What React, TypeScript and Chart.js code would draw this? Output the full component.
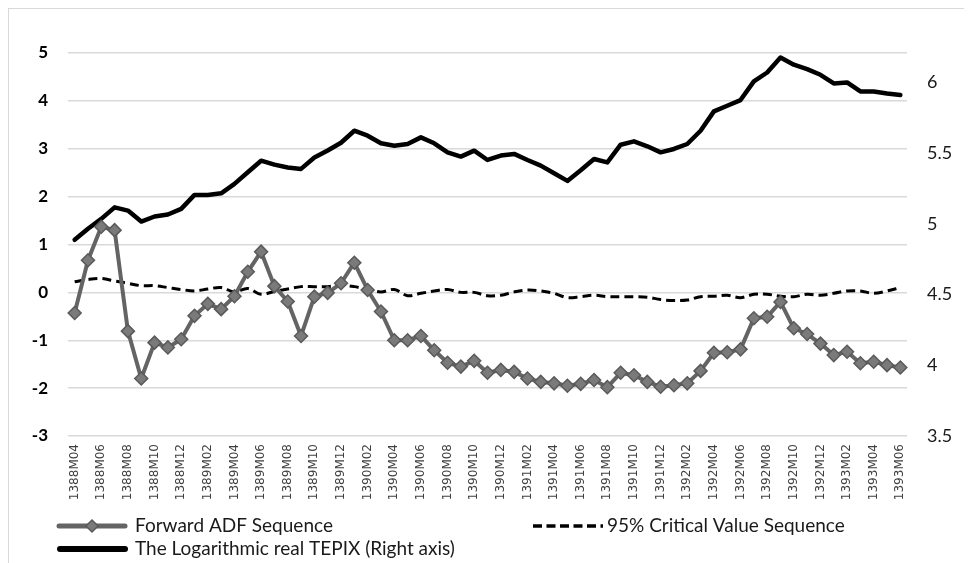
import React, { useEffect, useRef } from 'react';
import { Chart, registerables } from 'chart.js';

Chart.register(...registerables);

const months = [
  '1388M04', '1388M05', '1388M06', '1388M07', '1388M08', '1388M09', '1388M10', '1388M11', '1388M12',
  '1389M01', '1389M02', '1389M03', '1389M04', '1389M05', '1389M06', '1389M07', '1389M08', '1389M09', '1389M10', '1389M11', '1389M12',
  '1390M01', '1390M02', '1390M03', '1390M04', '1390M05', '1390M06', '1390M07', '1390M08', '1390M09', '1390M10', '1390M11', '1390M12',
  '1391M01', '1391M02', '1391M03', '1391M04', '1391M05', '1391M06', '1391M07', '1391M08', '1391M09', '1391M10', '1391M11', '1391M12',
  '1392M01', '1392M02', '1392M03', '1392M04', '1392M05', '1392M06', '1392M07', '1392M08', '1392M09', '1392M10', '1392M11', '1392M12',
  '1393M01', '1393M02', '1393M03', '1393M04', '1393M05', '1393M06',
];

const adfValues = [
  -0.43, 0.67, 1.37, 1.30, -0.81, -1.80, -1.05, -1.15, -0.98,
  -0.49, -0.24, -0.35, -0.08, 0.43, 0.85, 0.13, -0.19, -0.91, -0.09, -0.01, 0.19,
  0.62, 0.05, -0.40, -1.00, -1.00, -0.91, -1.21, -1.47, -1.55, -1.43, -1.68, -1.62,
  -1.66, -1.80, -1.87, -1.90, -1.95, -1.91, -1.83, -1.98, -1.68, -1.73, -1.87, -1.97,
  -1.94, -1.90, -1.64, -1.26, -1.25, -1.19, -0.54, -0.51, -0.20, -0.75, -0.87, -1.07,
  -1.31, -1.24, -1.48, -1.45, -1.52, -1.57,
];

const criticalValues = [
  0.22, 0.27, 0.29, 0.24, 0.19, 0.14, 0.14, 0.10, 0.06,
  0.03, 0.07, 0.10, 0.01, 0.08, -0.04, 0.02, 0.07, 0.12, 0.12, 0.12, 0.15,
  0.12, 0.06, 0.01, 0.06, -0.07, -0.02, 0.03, 0.06, 0.00, 0.00, -0.07, -0.06,
  0.01, 0.05, 0.03, -0.02, -0.11, -0.09, -0.06, -0.09, -0.09, -0.09, -0.10, -0.15,
  -0.17, -0.16, -0.09, -0.08, -0.06, -0.11, -0.04, -0.04, -0.08, -0.09, -0.04, -0.06,
  -0.02, 0.03, 0.03, -0.02, 0.03, 0.10,
];

const tepixValues = [
  4.888, 4.966, 5.036, 5.118, 5.095, 5.017, 5.053, 5.067, 5.107,
  5.206, 5.206, 5.217, 5.284, 5.366, 5.448, 5.42, 5.40, 5.39, 5.47, 5.52, 5.575,
  5.66, 5.625, 5.571, 5.554, 5.566, 5.613, 5.571, 5.507, 5.477, 5.519, 5.453, 5.484,
  5.496, 5.453, 5.413, 5.359, 5.305, 5.38, 5.46, 5.436, 5.561, 5.585, 5.55, 5.507,
  5.531, 5.566, 5.66, 5.797, 5.837, 5.877, 6.009, 6.072, 6.178, 6.127, 6.096, 6.056,
  5.995, 6.002, 5.938, 5.938, 5.924, 5.913,
];

const leftTicks = [-3, -2, -1, 0, 1, 2, 3, 4, 5];
const rightTicks = [3.5, 4, 4.5, 5, 5.5, 6];
const seriesNames = [
  'Forward ADF Sequence',
  '95% Critical Value Sequence',
  'The Logarithmic real TEPIX (Right axis)',
];

const ADF_LINE = '#646464';
const ADF_FILL = '#7a7a7a';
const ADF_EDGE = '#5a5a5a';
const TEXT = '#1a1a1a';
const LEGEND_FONT = '19px Lato, "Liberation Sans", sans-serif';

const legendPlugin = {
  id: 'customLegend',
  afterDraw(chart: any) {
    const ctx = chart.ctx as CanvasRenderingContext2D;
    const row1 = 517;
    const row2 = 540;
    ctx.save();
    // Item 1: ADF
    ctx.strokeStyle = ADF_LINE;
    ctx.lineWidth = 5;
    ctx.lineCap = 'round';
    ctx.beginPath();
    ctx.moveTo(50, row1);
    ctx.lineTo(116, row1);
    ctx.stroke();
    ctx.fillStyle = ADF_FILL;
    ctx.strokeStyle = ADF_EDGE;
    ctx.lineWidth = 1.5;
    ctx.beginPath();
    ctx.moveTo(83, row1 - 6);
    ctx.lineTo(89, row1);
    ctx.lineTo(83, row1 + 6);
    ctx.lineTo(77, row1);
    ctx.closePath();
    ctx.fill();
    ctx.stroke();
    // Item 2: critical dashed
    ctx.strokeStyle = '#000';
    ctx.lineWidth = 3.5;
    ctx.lineCap = 'butt';
    ctx.setLineDash([9, 4.5]);
    ctx.beginPath();
    ctx.moveTo(524, row1);
    ctx.lineTo(594, row1);
    ctx.stroke();
    ctx.setLineDash([]);
    // Item 3: TEPIX
    ctx.strokeStyle = '#000';
    ctx.lineWidth = 6;
    ctx.lineCap = 'round';
    ctx.beginPath();
    ctx.moveTo(51, row2);
    ctx.lineTo(116, row2);
    ctx.stroke();
    // texts
    ctx.fillStyle = TEXT;
    ctx.font = LEGEND_FONT;
    ctx.textBaseline = 'middle';
    ctx.textAlign = 'left';
    ctx.fillText(seriesNames[0], 126, row1);
    ctx.fillText(seriesNames[1], 598, row1);
    ctx.fillText(seriesNames[2], 126, row2);
    ctx.restore();
  },
};

export default function App() {
  const canvasRef = useRef<HTMLCanvasElement | null>(null);

  useEffect(() => {
    document.body.style.overflow = 'hidden';
    const canvas = canvasRef.current;
    if (!canvas) return;
    const chart = new Chart(canvas, {
      type: 'line',
      data: {
        labels: months,
        datasets: [
          {
            label: seriesNames[0],
            data: adfValues,
            yAxisID: 'y',
            borderColor: ADF_LINE,
            borderWidth: 4,
            pointStyle: 'rectRot',
            pointRadius: 6.5,
            pointBackgroundColor: ADF_FILL,
            pointBorderColor: ADF_EDGE,
            pointBorderWidth: 1.5,
            tension: 0,
            borderJoinStyle: 'round',
          },
          {
            label: seriesNames[1],
            data: criticalValues,
            yAxisID: 'y',
            borderColor: '#000',
            borderWidth: 3,
            borderDash: [9, 5],
            pointRadius: 0,
            tension: 0.35,
          },
          {
            label: seriesNames[2],
            data: tepixValues,
            yAxisID: 'y1',
            borderColor: '#000',
            borderWidth: 4.5,
            pointRadius: 0,
            tension: 0,
            borderJoinStyle: 'round',
            borderCapStyle: 'round',
          },
        ],
      },
      options: {
        responsive: false,
        animation: false,
        layout: { padding: { top: 44, left: 0, right: 0, bottom: 51 } },
        plugins: {
          legend: { display: false },
          tooltip: { enabled: false },
        },
        scales: {
          x: {
            type: 'category',
            offset: true,
            grid: { display: false, drawTicks: false },
            border: { display: false },
            afterFit: (scale: any) => {
              scale.height = 80;
            },
            ticks: {
              autoSkip: false,
              minRotation: 90,
              maxRotation: 90,
              padding: 8,
              color: '#404040',
              font: { family: '"DejaVu Sans", sans-serif', size: 12 },
              callback: (_v: any, i: number) => (i % 2 === 0 ? months[i] : ''),
            },
          },
          y: {
            type: 'linear',
            position: 'left',
            min: leftTicks[0],
            max: leftTicks[leftTicks.length - 1],
            afterFit: (scale: any) => {
              scale.width = 59;
            },
            afterBuildTicks: (scale: any) => {
              scale.ticks = leftTicks.map((v) => ({ value: v }));
            },
            grid: { color: '#d9d9d9', lineWidth: 1.5, drawTicks: false },
            border: { display: false },
            ticks: {
              padding: 20,
              color: '#000',
              font: { family: 'Lato, "Liberation Sans", sans-serif', size: 17, weight: 'bold' },
              callback: (v: any) => String(v),
            },
          },
          y1: {
            type: 'linear',
            position: 'right',
            min: 3.5,
            max: 6.21,
            afterFit: (scale: any) => {
              scale.width = 70;
            },
            afterBuildTicks: (scale: any) => {
              scale.ticks = rightTicks.map((v) => ({ value: v }));
            },
            grid: { display: false, drawOnChartArea: false, drawTicks: false },
            border: { display: false },
            ticks: {
              padding: 20,
              color: TEXT,
              font: { family: 'Lato, "Liberation Sans", sans-serif', size: 18 },
              callback: (v: any) => String(v),
            },
          },
        },
      },
      plugins: [legendPlugin],
    });
    return () => {
      chart.destroy();
    };
  }, []);

  return (
    <div
      style={{
        width: 968,
        height: 558,
        border: '1px solid #d9d9d9',
        background: '#fff',
      }}
    >
      <canvas ref={canvasRef} width={968} height={558} style={{ display: 'block' }} />
    </div>
  );
}
